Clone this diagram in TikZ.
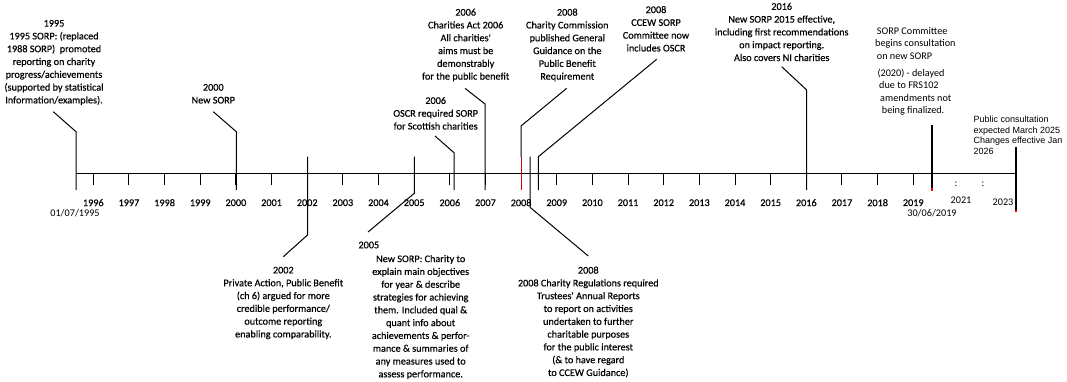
\documentclass[tikz,border=0pt]{standalone}
\usepackage{fontspec}
\setmainfont{Carlito}
\newfontfamily\plainf{Carlito}
\newfontfamily\boldishf{Carlito}[FakeBold=0.4]
\newfontfamily\arialf{Liberation Sans}
\begin{document}
\begin{tikzpicture}[x=1pt,y=-1pt,
  txt/.style={font=\boldishf\fontsize{10.2}{12.8}\selectfont, align=center, inner sep=0pt},
  ltxt/.style={font=\plainf\fontsize{10.2}{12.3}\selectfont, align=left, anchor=west, inner sep=0pt},
  yr/.style={font=\boldishf\fontsize{10.2}{12}\selectfont, inner sep=0pt},
  yrl/.style={font=\plainf\fontsize{10.2}{12}\selectfont, inner sep=0pt},
  ln/.style={line width=1pt},
  thk/.style={line width=1.7pt},
  redln/.style={line width=1pt, draw=red!85!black}]
\useasboundingbox (0,0) rectangle (1067,381);

% axis
\coordinate (a0) at (76,173.3);
\coordinate (a1) at (1016,173.3);
\draw[ln] (a0) -- (a1);

% year ticks and labels
\foreach \y [count=\i from 0] in {1996,...,2019} {
  \coordinate (k\y) at ({93.3+\i*35.65},173.3);
  \coordinate (kb\y) at ({93.3+\i*35.65},185);
  \draw[ln] (k\y) -- (kb\y);
  \node[yr] (y\y) at ({93.3+\i*35.65},202.7) {\y};
}
\node[yrl] (y2021) at (961,200) {2021};
\node[yrl] (y2023) at (1003,202) {2023};
\node[yrl] (c1) at (956,184) {:};
\node[yrl] (c2) at (983,184) {:};
\node[yrl] (d1995) at (75,213.3) {01/07/1995};
\node[yrl] (d2019) at (932,213) {30/06/2019};

% text nodes above
\node[txt] (t1995) at (54,62.5) {1995\\1995 SORP: (replaced\\1988 SORP)~~promoted\\reporting on charity\\progress/achievements\\(supported by statistical\\Information/examples).};
\node[txt] (t2000) at (213.3,93.8) {2000\\New SORP};
\node[txt] (tAct) at (465.7,45) {2006\\Charities Act 2006\\All charities'\\aims must be\\demonstrably\\for the public benefit};
\node[txt] (tOSCR) at (435.7,113.3) {2006\\OSCR required SORP\\for Scottish charities};
\node[txt] (tCC) at (567.3,45) {2008\\Charity Commission\\published General\\Guidance on the\\Public Benefit\\Requirement};
\node[txt] (tCCEW) at (656,28.8) {2008\\CCEW SORP\\Committee now\\includes OSCR};
\node[txt] (t2016) at (781.7,32) {2016\\New SORP 2015 effective,\\including first recommendations\\on impact reporting.\\Also covers NI charities};
\node[ltxt] (tS1) at (875,43.3) {\hspace*{1.7pt}SORP Committee\\begins consultation\\\hspace*{1.7pt}on new SORP};
\node[ltxt] (tS2) at (877.3,92) {(2020) - delayed\\\hspace*{1.7pt}due to FRS102\\\hspace*{2.7pt}amendments not\\\hspace*{4.4pt}being finalized.};
\node[font=\arialf\fontsize{9}{10.8}\selectfont, align=left, anchor=west, inner sep=0pt] (tPub) at (973.3,135.3) {Public consultation\\expected March 2025\\Changes effective Jan\\2026};

% text nodes below
\node[txt] (t2002) at (283.3,303) {2002\\Private Action, Public Benefit\\(ch 6) argued for more\\credible performance/\\outcome reporting\\enabling comparability.};
\node[yr, anchor=west] (t2005y) at (358.3,245) {2005};
\node[txt] (t2005) at (420.7,317) {New SORP: Charity to\\explain main objectives\\for year \& describe\\strategies for achieving\\them. Included qual \&\\quant info about\\achievements \& perfor-\\mance \& summaries of\\any measures used to\\assess performance.};
\node[txt] (t2008b) at (588.3,322) {2008\\2008 Charity Regulations required\\Trustees' Annual Reports\\to report on activities\\undertaken to further\\charitable purposes\\for the public interest\\(\& to have regard\\to CCEW Guidance)};

% leader lines
\coordinate (p95a) at (53.3,111.7); \coordinate (p95b) at (76,131.7); \coordinate (p95c) at (76,190);
\draw[ln] (p95a) -- (p95b) -- (p95c);
\coordinate (p00a) at (213.3,111.7); \coordinate (p00b) at (236.3,131.7); \coordinate (p00c) at (236.3,190);
\draw[ln] (p00a) -- (p00b) -- (p00c);
\coordinate (p02a) at (307.5,156.7); \coordinate (p02b) at (307.5,235); \coordinate (p02c) at (283.3,256.7);
\draw[ln] (p02a) -- (p02b) -- (p02c);
\coordinate (p05a) at (414.3,156.7); \coordinate (p05b) at (414.3,193.3); \coordinate (p05c) at (368,232);
\draw[ln] (p05a) -- (p05b) -- (p05c);
\coordinate (pOa) at (435,136); \coordinate (pOb) at (454,152.7); \coordinate (pOc) at (454,190);
\draw[ln] (pOa) -- (pOb) -- (pOc);
\coordinate (pAa) at (465,88.3); \coordinate (pAb) at (485,104); \coordinate (pAc) at (485,190);
\draw[ln] (pAa) -- (pAb) -- (pAc);
\coordinate (pCa) at (566.7,88.3); \coordinate (pCb) at (521,126); \coordinate (pCc) at (521,157); \coordinate (pCd) at (521,190);
\draw[ln] (pCa) -- (pCb) -- (pCc);
\draw[redln] (pCc) -- (pCd);
\coordinate (pEa) at (656.7,59.3); \coordinate (pEb) at (538.3,156.7); \coordinate (pEc) at (538.3,190);
\draw[ln] (pEa) -- (pEb) -- (pEc);
\coordinate (pRa) at (530,156.7); \coordinate (pRb) at (530,207.3); \coordinate (pRc) at (588.3,256);
\draw[ln] (pRa) -- (pRb) -- (pRc);
\coordinate (p16a) at (781.7,66.7); \coordinate (p16b) at (806.7,90); \coordinate (p16c) at (806.7,190);
\draw[ln] (p16a) -- (p16b) -- (p16c);
\coordinate (p19a) at (931.7,125); \coordinate (p19b) at (931.7,188); \coordinate (p19c) at (931.7,191);
\draw[thk] (p19a) -- (p19b);
\draw[thk, red] (p19b) -- (p19c);
\coordinate (p23a) at (1016,146.7); \coordinate (p23b) at (1016,209.5); \coordinate (p23c) at (1016,212);
\draw[thk] (p23a) -- (p23b);
\draw[thk, red] (p23b) -- (p23c);
\end{tikzpicture}
\end{document}
